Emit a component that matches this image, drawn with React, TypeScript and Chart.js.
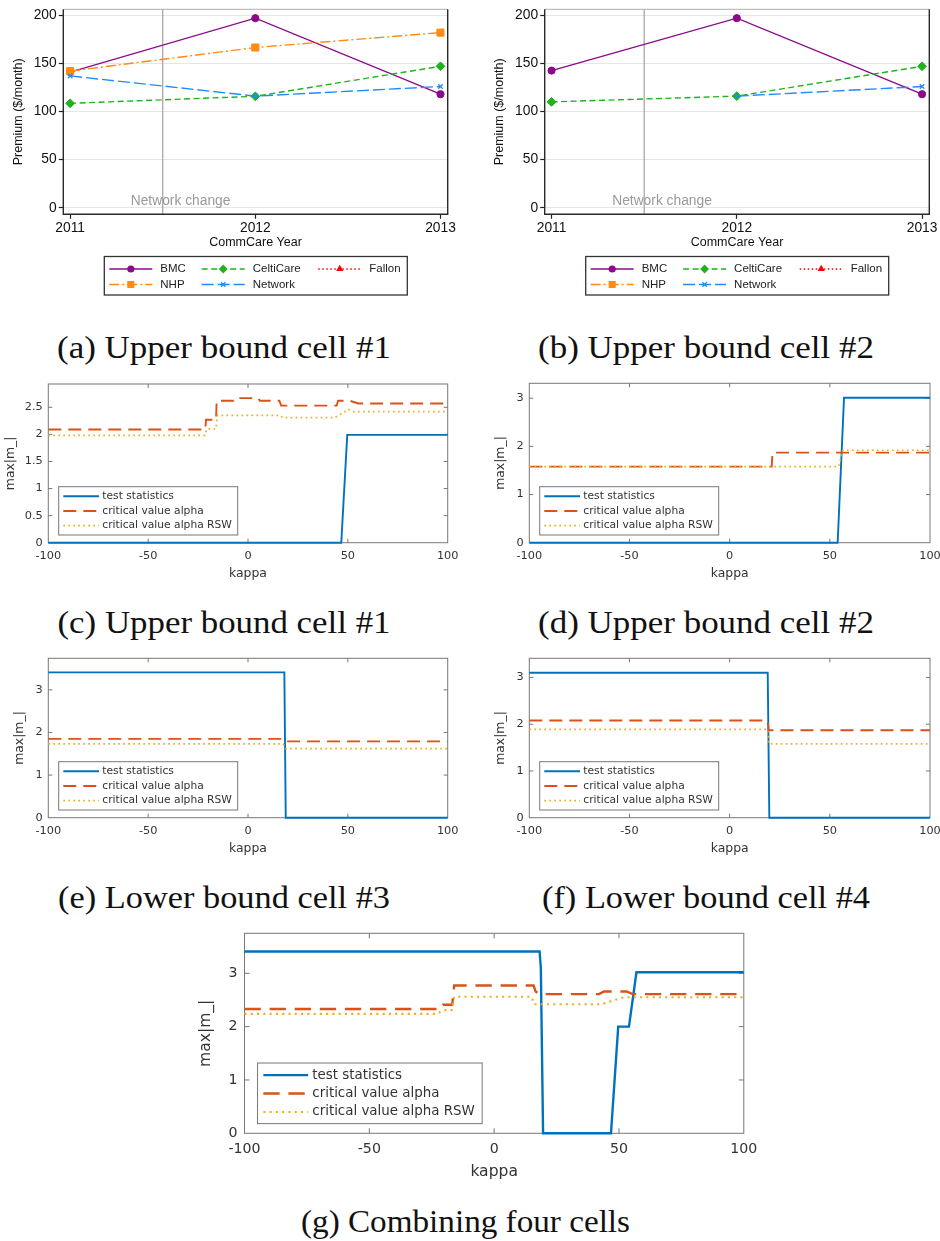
import React, { useEffect, useRef } from 'react';
import { Chart, registerables } from 'chart.js';

Chart.register(...registerables);

// ================= Panels (a), (b): CommCare premiums =================
const years = [2011, 2012, 2013];
const premiumTicks = [0, 50, 100, 150, 200];
const bmcA = [141, 197, 118];
const nhpA = [142, 166.5, 182];
const celtiCareA = [108.5, 115.8, 147];
const networkA = [137, 116, 126];
const fallonA = [null, null, null];
const bmcB = [142.5, 197, 118];
const nhpB = [null, null, null];
const celtiCareB = [110, 116, 147];
const networkB = [null, 116, 126];
const fallonB = [null, null, null];
const networkChangeYear = 2011.5;

// ================= Panels (c)-(g): max|m_| vs kappa =================
const kappaTicks = [-100, -50, 0, 50, 100];
const ticksHalf = [0, 0.5, 1, 1.5, 2, 2.5];
const ticksUnit = [0, 1, 2, 3];

// (c) Upper bound cell #1
const cTestK = [-100, 46.7, 49.7, 100];
const cTestV = [0, 0, 1.99, 1.99];
const cAlphaK = [-100, -21.4, -21, -16, -15.7, -7.3, -6.6, 5.2, 5.9, 15.7, 16.6, 44.4, 45.1, 51, 55.3, 100];
const cAlphaV = [2.09, 2.09, 2.27, 2.27, 2.62, 2.62, 2.67, 2.67, 2.62, 2.62, 2.53, 2.53, 2.62, 2.62, 2.57, 2.57];
const cRswK = [-100, -21.6, -20.6, -16.1, -15.3, 16.2, 17.4, 43.5, 50.3, 52.8, 100];
const cRswV = [1.98, 1.98, 2.1, 2.1, 2.35, 2.35, 2.31, 2.31, 2.46, 2.42, 2.42];

// (d) Upper bound cell #2
const dTestK = [-100, 53.9, 57.1, 100];
const dTestV = [0, 0, 3.01, 3.01];
const dAlphaK = [-100, 21, 21.4, 100];
const dAlphaV = [1.58, 1.58, 1.87, 1.87];
const dRswK = [-100, 54.3, 56.6, 100];
const dRswV = [1.58, 1.58, 1.92, 1.92];

// (e) Lower bound cell #3
const eTestK = [-100, 18.2, 18.9, 100];
const eTestV = [3.41, 3.41, 0, 0];
const eAlphaK = [-100, 17.7, 18.7, 100];
const eAlphaV = [1.85, 1.85, 1.79, 1.79];
const eRswK = [-100, 17.7, 18.7, 100];
const eRswV = [1.73, 1.73, 1.62, 1.62];

// (f) Lower bound cell #4
const fTestK = [-100, 19, 19.8, 100];
const fTestV = [3.1, 3.1, 0, 0];
const fAlphaK = [-100, 19, 19.5, 100];
const fAlphaV = [2.08, 2.08, 1.87, 1.87];
const fRswK = [-100, 19, 19.5, 100];
const fRswV = [1.89, 1.89, 1.58, 1.58];

// (g) Combining four cells
const gTestK = [-100, 18.2, 18.7, 19.6, 46.8, 49.7, 54, 57, 100];
const gTestV = [3.41, 3.41, 3.1, 0, 0, 2.0, 2.0, 3.02, 3.02];
const gAlphaK = [-100, -21.3, -20.5, -16.8, -16, 15.8, 16.6, 18.2, 42, 44, 53, 55.5, 100];
const gAlphaV = [2.33, 2.33, 2.41, 2.41, 2.77, 2.77, 2.66, 2.61, 2.61, 2.66, 2.66, 2.61, 2.61];
const gRswK = [-100, -22.8, -20.5, -17, -16, 15, 16, 43, 49, 52, 100];
const gRswV = [2.24, 2.24, 2.31, 2.31, 2.56, 2.56, 2.42, 2.42, 2.51, 2.55, 2.55];

const matlabLabels = ['test statistics', 'critical value alpha', 'critical value alpha RSW'];

const captions = [
  { text: '(a) Upper bound cell #1', x: 224, y: 358.4, w: 334 },
  { text: '(b) Upper bound cell #2', x: 706, y: 358.4, w: 336 },
  { text: '(c) Upper bound cell #1', x: 224, y: 633.3, w: 333 },
  { text: '(d) Upper bound cell #2', x: 706, y: 633.3, w: 336 },
  { text: '(e) Lower bound cell #3', x: 224, y: 908.3, w: 332 },
  { text: '(f) Lower bound cell #4', x: 706, y: 908.3, w: 328 },
  { text: '(g) Combining four cells', x: 465.5, y: 1231.5, w: 329 },
];

// ================= helpers =================
const STATA_FONT = '"Liberation Sans", Arial, sans-serif';
const MATLAB_FONT = '"DejaVu Sans", sans-serif';

type Box = { left: number; top: number; w: number; h: number };
type Area = { L: number; T: number; R: number; B: number };

function drawMarker(ctx: CanvasRenderingContext2D, style: string, x: number, y: number, r: number, color: string) {
  ctx.save();
  ctx.setLineDash([]);
  ctx.fillStyle = color;
  ctx.strokeStyle = color;
  ctx.lineWidth = 1.3;
  ctx.beginPath();
  if (style === 'circle') {
    ctx.arc(x, y, r, 0, Math.PI * 2);
    ctx.fill();
  } else if (style === 'rect') {
    const h = r * Math.SQRT1_2;
    ctx.rect(x - h, y - h, 2 * h, 2 * h);
    ctx.fill();
  } else if (style === 'rectRot') {
    ctx.moveTo(x, y - r);
    ctx.lineTo(x + r, y);
    ctx.lineTo(x, y + r);
    ctx.lineTo(x - r, y);
    ctx.closePath();
    ctx.fill();
  } else if (style === 'triangle') {
    for (let k = 0; k < 3; k++) {
      const ang = -Math.PI / 2 + (k * 2 * Math.PI) / 3;
      const px = x + r * Math.cos(ang);
      const py = y + r * Math.sin(ang);
      if (k === 0) ctx.moveTo(px, py);
      else ctx.lineTo(px, py);
    }
    ctx.closePath();
    ctx.fill();
  } else if (style === 'crossRot') {
    const d = r * Math.SQRT1_2;
    ctx.moveTo(x - d, y - d);
    ctx.lineTo(x + d, y + d);
    ctx.moveTo(x + d, y - d);
    ctx.lineTo(x - d, y + d);
    ctx.stroke();
  }
  ctx.restore();
}

function stataSeries(bmc: any[], nhp: any[], celti: any[], network: any[], fallon: any[]) {
  return [
    { label: 'BMC', values: bmc, color: '#8B0A8B', dash: [] as number[], marker: 'circle', radius: 3.6 },
    { label: 'NHP', values: nhp, color: '#FF8A14', dash: [10, 3, 2, 3], marker: 'rect', radius: 5 },
    { label: 'CeltiCare', values: celti, color: '#1DB31D', dash: [6, 3.5], marker: 'rectRot', radius: 4.4 },
    { label: 'Network', values: network, color: '#1E8CFF', dash: [12, 4], marker: 'crossRot', radius: 3.2 },
    { label: 'Fallon', values: fallon, color: '#FF0000', dash: [1.5, 2.5], marker: 'triangle', radius: 4.2 },
  ];
}

function stataConfig(series: any[], canvas: Box, area: Area): any {
  const L = area.L - canvas.left;
  const T = area.T - canvas.top;
  const R = area.R - canvas.left;
  const B = area.B - canvas.top;
  const tickFont = { family: STATA_FONT, size: 13.8 };
  const titleFont = { family: STATA_FONT, size: 12.5 };
  const datasets = series.map((s, i) => ({
    label: s.label,
    data: years.map((x, j) => ({ x, y: s.values[j] })),
    borderColor: s.color,
    backgroundColor: s.color,
    borderWidth: 1.4,
    borderDash: s.dash,
    pointStyle: s.marker,
    pointRadius: s.radius,
    pointBorderWidth: s.marker === 'crossRot' ? 1.3 : 1,
    pointBackgroundColor: s.color,
    pointBorderColor: s.color,
    order: series.length - i,
    clip: false,
  }));
  const plugin = {
    id: 'stataDeco',
    beforeDatasetsDraw(chart: any) {
      const { ctx, chartArea: a, scales } = chart;
      const vx = scales.x.getPixelForValue(networkChangeYear);
      ctx.save();
      ctx.strokeStyle = '#a0a0a0';
      ctx.lineWidth = 1.2;
      ctx.beginPath();
      ctx.moveTo(vx, a.top);
      ctx.lineTo(vx, a.bottom);
      ctx.stroke();
      ctx.fillStyle = '#9a9a9a';
      ctx.font = `13.8px ${STATA_FONT}`;
      ctx.textBaseline = 'middle';
      ctx.textAlign = 'left';
      ctx.fillText('Network change', vx - 32, a.bottom - 13);
      // plot region outline
      ctx.strokeStyle = '#b0b0b0';
      ctx.lineWidth = 1;
      ctx.beginPath();
      ctx.moveTo(a.left, a.top);
      ctx.lineTo(a.right, a.top);
      ctx.stroke();
      ctx.strokeStyle = '#2a2a2a';
      ctx.lineWidth = 1.4;
      ctx.beginPath();
      ctx.moveTo(a.left, a.top);
      ctx.lineTo(a.left, a.bottom);
      ctx.lineTo(a.right, a.bottom);
      ctx.lineTo(a.right, a.top);
      ctx.stroke();
      ctx.restore();
    },
    afterDraw(chart: any) {
      const { ctx, chartArea: a } = chart;
      const bx = a.left + 41;
      const by = a.bottom + 42.2;
      const bw = 303;
      const bh = 38.5;
      ctx.save();
      ctx.fillStyle = '#fff';
      ctx.fillRect(bx, by, bw, bh);
      ctx.strokeStyle = '#333';
      ctx.lineWidth = 1.3;
      ctx.strokeRect(bx, by, bw, bh);
      const colX = [5, 97.4, 214];
      const rowY = [12.5, 28];
      series.forEach((s, i) => {
        const x1 = bx + colX[Math.floor(i / 2)];
        const y = by + rowY[i % 2];
        ctx.strokeStyle = s.color;
        ctx.lineWidth = 1.4;
        ctx.setLineDash(s.dash);
        ctx.beginPath();
        ctx.moveTo(x1, y);
        ctx.lineTo(x1 + 43, y);
        ctx.stroke();
        ctx.setLineDash([]);
        drawMarker(ctx, s.marker, x1 + 21.5, y, s.radius, s.color);
        ctx.fillStyle = '#222';
        ctx.font = `11.5px ${STATA_FONT}`;
        ctx.textBaseline = 'middle';
        ctx.textAlign = 'left';
        ctx.fillText(s.label, x1 + 51, y);
      });
      ctx.restore();
    },
  };
  return {
    type: 'line',
    data: { datasets },
    options: {
      responsive: false,
      animation: false,
      events: [],
      layout: { padding: { left: 0, top: T, right: canvas.w - R, bottom: 0 } },
      plugins: { legend: { display: false }, tooltip: { enabled: false } },
      scales: {
        x: {
          type: 'linear',
          min: 2010.963,
          max: 2013.039,
          border: { display: false },
          grid: { drawOnChartArea: false, drawTicks: true, tickLength: 4.5, tickColor: '#222', tickWidth: 1.2 },
          afterBuildTicks: (ax: any) => {
            ax.ticks = years.map((v) => ({ value: v }));
          },
          afterFit: (ax: any) => {
            ax.height = canvas.h - B;
            ax.paddingLeft = 0;
            ax.paddingRight = 0;
          },
          ticks: {
            autoSkip: false,
            maxRotation: 0,
            font: tickFont,
            color: '#111',
            padding: 13.4 - 4.5 - tickFont.size * 0.6,
            callback: (v: any) => String(v),
          },
          title: {
            display: true,
            text: 'CommCare Year',
            font: titleFont,
            color: '#111',
            padding: { top: 0, bottom: canvas.h - (B + 28) - titleFont.size * 0.6 },
          },
        },
        y: {
          type: 'linear',
          min: -6.86,
          max: 206.24,
          border: { display: false },
          grid: { color: '#e6e6e6', lineWidth: 1, drawTicks: true, tickLength: 4.5, tickColor: '#222', tickWidth: 1.2 },
          afterBuildTicks: (ax: any) => {
            ax.ticks = premiumTicks.map((v) => ({ value: v }));
          },
          afterFit: (ax: any) => {
            ax.width = L;
            ax.paddingTop = 0;
            ax.paddingBottom = 0;
          },
          ticks: { font: tickFont, color: '#111', padding: 2.1, callback: (v: any) => String(v) },
          title: {
            display: true,
            text: 'Premium ($/month)',
            font: titleFont,
            color: '#111',
            padding: { top: L - 45 - titleFont.size * 0.6, bottom: 0 },
          },
        },
      },
    },
    plugins: [plugin],
  };
}

type MPanel = {
  test: number[][];
  alpha: number[][];
  rsw: number[][];
  yMax: number;
  yTicks: number[];
  s: number;
  ylabelDist: number;
  canvas: Box;
  area: Area;
};

function matlabConfig(p: MPanel): any {
  const s = p.s;
  const c = p.canvas;
  const L = p.area.L - c.left;
  const T = p.area.T - c.top;
  const R = p.area.R - c.left;
  const B = p.area.B - c.top;
  const tickFont = { family: MATLAB_FONT, size: 11.3 * s };
  const titleFont = { family: MATLAB_FONT, size: 12.4 * s };
  const pts = (ks: number[], vs: number[]) => ks.map((x, i) => ({ x, y: vs[i] }));
  const datasets = [
    {
      label: matlabLabels[0],
      data: pts(p.test[0], p.test[1]),
      borderColor: '#0072BD',
      borderWidth: 1.9 * s,
      borderDash: [] as number[],
      pointRadius: 0,
      order: 3,
      clip: false,
    },
    {
      label: matlabLabels[1],
      data: pts(p.alpha[0], p.alpha[1]),
      borderColor: '#D95319',
      borderWidth: 1.9 * s,
      borderDash: [13 * s, 7 * s],
      pointRadius: 0,
      order: 2,
      clip: false,
    },
    {
      label: matlabLabels[2],
      data: pts(p.rsw[0], p.rsw[1]),
      borderColor: '#EDB120',
      borderWidth: 1.7 * s,
      borderDash: [1.7 * s, 3.3 * s],
      pointRadius: 0,
      order: 1,
      clip: false,
    },
  ];
  const frameColor = '#777';
  const plugin = {
    id: 'matlabDeco',
    beforeDatasetsDraw(chart: any) {
      const { ctx, chartArea: a, scales } = chart;
      const x = scales.x;
      const y = scales.y;
      ctx.save();
      ctx.strokeStyle = frameColor;
      ctx.lineWidth = 1;
      ctx.strokeRect(a.left, a.top, a.right - a.left, a.bottom - a.top);
      const tl = 4 * s;
      ctx.beginPath();
      for (const t of x.ticks) {
        const px = x.getPixelForValue(t.value);
        if (px <= a.left + 1 || px >= a.right - 1) continue;
        ctx.moveTo(px, a.bottom);
        ctx.lineTo(px, a.bottom - tl);
        ctx.moveTo(px, a.top);
        ctx.lineTo(px, a.top + tl);
      }
      for (const t of y.ticks) {
        const py = y.getPixelForValue(t.value);
        if (py >= a.bottom - 1 || py <= a.top + 1) continue;
        ctx.moveTo(a.left, py);
        ctx.lineTo(a.left + tl, py);
        ctx.moveTo(a.right, py);
        ctx.lineTo(a.right - tl, py);
      }
      ctx.stroke();
      ctx.restore();
    },
    afterDraw(chart: any) {
      const { ctx, chartArea: a } = chart;
      const bw = 179 * s;
      const bh = 48.3 * s;
      const bx = a.left + 10.4 * s;
      const by = a.bottom - 7.7 * s - bh;
      ctx.save();
      ctx.fillStyle = '#fff';
      ctx.fillRect(bx, by, bw, bh);
      ctx.strokeStyle = frameColor;
      ctx.lineWidth = 1;
      ctx.strokeRect(bx, by, bw, bh);
      chart.data.datasets.forEach((ds: any, i: number) => {
        const yy = by + (9.6 + 14.7 * i) * s;
        ctx.strokeStyle = ds.borderColor;
        ctx.lineWidth = ds.borderWidth;
        ctx.setLineDash(ds.borderDash || []);
        ctx.beginPath();
        ctx.moveTo(bx + 4.6 * s, yy);
        ctx.lineTo(bx + 40.3 * s, yy);
        ctx.stroke();
        ctx.setLineDash([]);
        ctx.fillStyle = '#333';
        ctx.font = `${10.7 * s}px ${MATLAB_FONT}`;
        ctx.textBaseline = 'middle';
        ctx.textAlign = 'left';
        ctx.fillText(ds.label, bx + 43.6 * s, yy);
      });
      ctx.restore();
    },
  };
  return {
    type: 'line',
    data: { datasets },
    options: {
      responsive: false,
      animation: false,
      events: [],
      layout: { padding: { left: 0, top: T, right: c.w - R, bottom: 0 } },
      plugins: { legend: { display: false }, tooltip: { enabled: false } },
      scales: {
        x: {
          type: 'linear',
          min: -100,
          max: 100,
          border: { display: false },
          grid: { display: false, drawTicks: false },
          afterBuildTicks: (ax: any) => {
            ax.ticks = kappaTicks.map((v) => ({ value: v }));
          },
          afterFit: (ax: any) => {
            ax.height = c.h - B;
            ax.paddingLeft = 0;
            ax.paddingRight = 0;
          },
          ticks: {
            autoSkip: false,
            maxRotation: 0,
            font: tickFont,
            color: '#333',
            padding: 12.9 * s - tickFont.size * 0.6,
            callback: (v: any) => String(v),
          },
          title: {
            display: true,
            text: 'kappa',
            font: titleFont,
            color: '#333',
            padding: { top: 0, bottom: c.h - (B + 30.7 * s) - titleFont.size * 0.6 },
          },
        },
        y: {
          type: 'linear',
          min: 0,
          max: p.yMax,
          border: { display: false },
          grid: { display: false, drawTicks: false },
          afterBuildTicks: (ax: any) => {
            ax.ticks = p.yTicks.map((v) => ({ value: v }));
          },
          afterFit: (ax: any) => {
            ax.width = L;
            ax.paddingTop = 0;
            ax.paddingBottom = 0;
          },
          ticks: { font: tickFont, color: '#333', padding: 5.5 * s, callback: (v: any) => String(v) },
          title: {
            display: true,
            text: 'max|m_|',
            font: titleFont,
            color: '#333',
            padding: { top: L - p.ylabelDist * s - titleFont.size * 0.6, bottom: 0 },
          },
        },
      },
    },
    plugins: [plugin],
  };
}

// ================= panel layout =================
const stataPanels = [
  {
    series: stataSeries(bmcA, nhpA, celtiCareA, networkA, fallonA),
    canvas: { left: 0, top: 0, w: 470, h: 300 },
    area: { L: 63.3, T: 9.3, R: 447.7, B: 214.3 },
  },
  {
    series: stataSeries(bmcB, nhpB, celtiCareB, networkB, fallonB),
    canvas: { left: 470, top: 0, w: 470, h: 300 },
    area: { L: 544.7, T: 9.3, R: 929.3, B: 214.3 },
  },
];

const matlabPanels: MPanel[] = [
  {
    test: [cTestK, cTestV], alpha: [cAlphaK, cAlphaV], rsw: [cRswK, cRswV],
    yMax: 2.93, yTicks: ticksHalf, s: 1, ylabelDist: 38,
    canvas: { left: 0, top: 370, w: 470, h: 222 },
    area: { L: 48.3, T: 384, R: 447.7, B: 542.7 },
  },
  {
    test: [dTestK, dTestV], alpha: [dAlphaK, dAlphaV], rsw: [dRswK, dRswV],
    yMax: 3.31, yTicks: ticksUnit, s: 1, ylabelDist: 29,
    canvas: { left: 470, top: 370, w: 470, h: 222 },
    area: { L: 529.3, T: 383.3, R: 930, B: 542.7 },
  },
  {
    test: [eTestK, eTestV], alpha: [eAlphaK, eAlphaV], rsw: [eRswK, eRswV],
    yMax: 3.74, yTicks: ticksUnit, s: 1, ylabelDist: 29,
    canvas: { left: 0, top: 645, w: 470, h: 222 },
    area: { L: 48.3, T: 658.3, R: 447.7, B: 817.7 },
  },
  {
    test: [fTestK, fTestV], alpha: [fAlphaK, fAlphaV], rsw: [fRswK, fRswV],
    yMax: 3.41, yTicks: ticksUnit, s: 1, ylabelDist: 29,
    canvas: { left: 470, top: 645, w: 470, h: 222 },
    area: { L: 529.3, T: 658.3, R: 930, B: 817.7 },
  },
  {
    test: [gTestK, gTestV], alpha: [gAlphaK, gAlphaV], rsw: [gRswK, gRswV],
    yMax: 3.75, yTicks: ticksUnit, s: 1.255, ylabelDist: 30.4,
    canvas: { left: 190, top: 920, w: 570, h: 270 },
    area: { L: 244.5, T: 933.3, R: 743.8, B: 1133.3 },
  },
];

function ChartCanvas({ make, box }: { make: () => any; box: Box }) {
  const ref = useRef<HTMLCanvasElement>(null);
  useEffect(() => {
    const chart = new Chart(ref.current as HTMLCanvasElement, make());
    return () => chart.destroy();
  }, []);
  return (
    <canvas
      ref={ref}
      width={box.w}
      height={box.h}
      style={{ position: 'absolute', left: box.left, top: box.top, width: box.w, height: box.h }}
    />
  );
}

export default function App() {
  return (
    <div
      style={{
        position: 'absolute',
        left: 0,
        top: 0,
        width: 940,
        height: 1241,
        background: '#fff',
        overflow: 'hidden',
      }}
    >
      <svg width={940} height={1241} style={{ position: 'absolute', left: 0, top: 0 }}>
        {captions.map((c) => (
          <text
            key={c.text}
            x={c.x}
            y={c.y}
            textAnchor="middle"
            fontFamily='"Liberation Serif", serif'
            fontSize={32}
            textLength={c.w}
            lengthAdjust="spacingAndGlyphs"
            fill="#111"
          >
            {c.text}
          </text>
        ))}
      </svg>
      {stataPanels.map((p, i) => (
        <ChartCanvas key={'s' + i} box={p.canvas} make={() => stataConfig(p.series, p.canvas, p.area)} />
      ))}
      {matlabPanels.map((p, i) => (
        <ChartCanvas key={'m' + i} box={p.canvas} make={() => matlabConfig(p)} />
      ))}
    </div>
  );
}
